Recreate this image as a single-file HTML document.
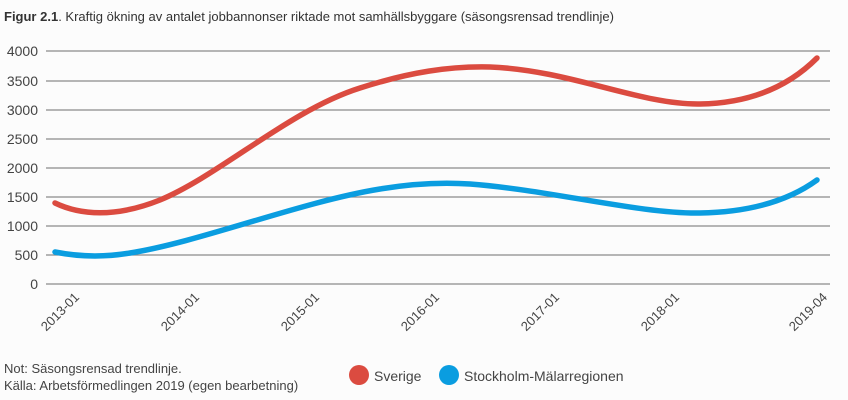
<!DOCTYPE html>
<html><head><meta charset="utf-8"><style>
body{margin:0;background:#fcfcfc;}
svg{display:block;font-family:"Liberation Sans",sans-serif;}
</style></head><body>
<svg width="848" height="400" viewBox="0 0 848 400">
<rect width="848" height="400" fill="#fcfcfc"/>
<text x="4" y="21" font-size="13" fill="#333"><tspan font-weight="bold">Figur 2.1</tspan>. Kraftig ökning av antalet jobbannonser riktade mot samhällsbyggare (säsongsrensad trendlinje)</text>
<g stroke="#8a8a8a" stroke-width="1.2">
<line x1="46" x2="830" y1="51" y2="51"/><line x1="46" x2="830" y1="81" y2="81"/>
<line x1="46" x2="830" y1="110" y2="110"/><line x1="46" x2="830" y1="139" y2="139"/>
<line x1="46" x2="830" y1="168" y2="168"/><line x1="46" x2="830" y1="197" y2="197"/>
<line x1="46" x2="830" y1="226" y2="226"/><line x1="46" x2="830" y1="255" y2="255"/>
<line x1="46" x2="830" y1="284" y2="284"/>
</g>
<g font-size="14" fill="#444" text-anchor="end">
<text x="38" y="56">4000</text><text x="38" y="86">3500</text><text x="38" y="115">3000</text>
<text x="38" y="144">2500</text><text x="38" y="173">2000</text><text x="38" y="202">1500</text>
<text x="38" y="231">1000</text><text x="38" y="260">500</text><text x="38" y="289">0</text>
</g>
<g font-size="13" fill="#444" text-anchor="end">
<text transform="translate(80,298) rotate(-45)">2013-01</text>
<text transform="translate(200,298) rotate(-45)">2014-01</text>
<text transform="translate(320,298) rotate(-45)">2015-01</text>
<text transform="translate(440,298) rotate(-45)">2016-01</text>
<text transform="translate(560,298) rotate(-45)">2017-01</text>
<text transform="translate(680,298) rotate(-45)">2018-01</text>
<text transform="translate(828,298) rotate(-45)">2019-04</text>
</g>
<path d="M55,203 C80,215 115,218 160,200 C220,175 290,110 360,88 C410,72 450,66 490,67 C570,70 640,105 700,104 C760,103 795,80 817,58" fill="none" stroke="#db4b40" stroke-width="5.5" stroke-linecap="round"/>
<path d="M55,252 C75,256 100,258 130,253 C200,242 300,202 380,189 C410,184 440,182 470,184 C550,190 640,214 700,213 C760,212 795,196 817,180" fill="none" stroke="#0a9de0" stroke-width="5.5" stroke-linecap="round"/>
<g font-size="13" fill="#444">
<text x="4" y="373">Not: Säsongsrensad trendlinje.</text>
<text x="4" y="390">Källa: Arbetsförmedlingen 2019 (egen bearbetning)</text>
</g>
<circle cx="359" cy="375" r="10" fill="#db4b40"/>
<text x="374" y="381" font-size="14" fill="#444">Sverige</text>
<circle cx="449" cy="375" r="10" fill="#0a9de0"/>
<text x="464" y="381" font-size="14" fill="#444">Stockholm-Mälarregionen</text>
</svg>
</body></html>
